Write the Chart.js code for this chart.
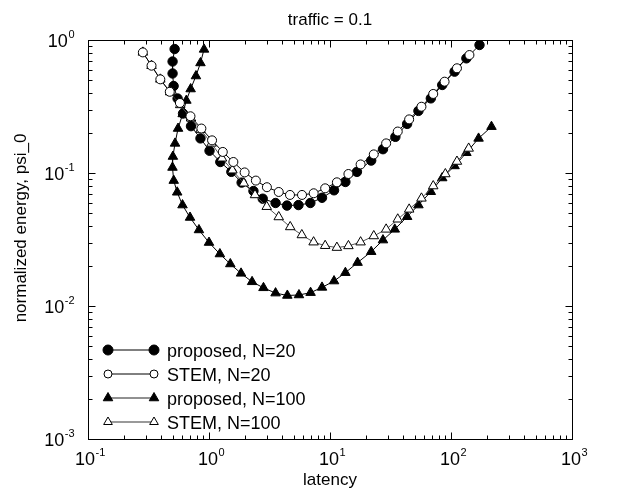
<!DOCTYPE html>
<html>
<head>
<meta charset="utf-8">
<script src="https://cdn.jsdelivr.net/npm/chart.js@4.4.1/dist/chart.umd.min.js"></script>
<style>
  body { margin: 0; background: #fff; }
  canvas { display: block; }
</style>
</head>
<body>
<canvas id="myChart" width="619" height="492"></canvas>
<script>
// Donnees (latence, energie normalisee)
const propN20X = [0.52, 0.50, 0.50, 0.51, 0.55, 0.61, 0.71, 0.85, 1.01, 1.24, 1.53, 1.86, 2.33, 2.78, 3.55, 4.41, 5.49, 6.88, 8.59, 10.8, 13.4, 16.7, 21.9, 27.4, 34.7, 43.4, 53.8, 68.1, 84.6, 107, 134, 172]
const propN20Y = [0.855, 0.689, 0.560, 0.451, 0.363, 0.280, 0.225, 0.182, 0.147, 0.121, 0.102, 0.0847, 0.0732, 0.0641, 0.0595, 0.0569, 0.0574, 0.0595, 0.0651, 0.0741, 0.0856, 0.102, 0.124, 0.151, 0.187, 0.234, 0.293, 0.364, 0.459, 0.578, 0.728, 0.917]

const stemN20X = [0.284, 0.335, 0.396, 0.474, 0.575, 0.703, 0.865, 1.06, 1.30, 1.59, 1.97, 2.44, 3.01, 3.77, 4.67, 5.87, 7.33, 9.12, 11.4, 14.2, 17.9, 23.0, 29.1, 36.3, 45.1, 57.0, 71.3, 88.5, 112, 142]
const stemN20Y = [0.807, 0.641, 0.506, 0.408, 0.336, 0.267, 0.216, 0.176, 0.144, 0.121, 0.101, 0.0877, 0.0782, 0.0720, 0.0684, 0.0684, 0.0704, 0.0767, 0.0851, 0.0983, 0.116, 0.138, 0.167, 0.205, 0.253, 0.315, 0.393, 0.486, 0.613, 0.771]

const propN100X = [0.91, 0.85, 0.78, 0.705, 0.65, 0.606, 0.555, 0.524, 0.503, 0.499, 0.511, 0.546, 0.604, 0.697, 0.826, 1.00, 1.23, 1.50, 1.84, 2.27, 2.82, 3.55, 4.44, 5.54, 6.91, 8.59, 10.8, 13.4, 16.9, 21.9, 27.4, 34.3, 43.4, 53.8, 68.1, 84.6, 107, 134, 169, 216]
const propN100Y = [0.850, 0.672, 0.536, 0.428, 0.351, 0.278, 0.216, 0.167, 0.133, 0.110, 0.0877, 0.0716, 0.0574, 0.0463, 0.0373, 0.0300, 0.0246, 0.0207, 0.0176, 0.0152, 0.0137, 0.0125, 0.0120, 0.0121, 0.0126, 0.0138, 0.0154, 0.0178, 0.0212, 0.0256, 0.0313, 0.0377, 0.0469, 0.0574, 0.0723, 0.0917, 0.113, 0.142, 0.182, 0.223]

const stemN100X = [0.284, 0.335, 0.396, 0.477, 0.578, 0.710, 0.851, 1.05, 1.28, 1.56, 1.94, 2.40, 3.00, 3.77, 4.69, 5.85, 7.32, 9.12, 11.4, 14.2, 17.9, 23.0, 29.1, 36.3, 45.1, 57.0, 71.3, 89.8, 112, 140]
const stemN100Y = [0.807, 0.641, 0.506, 0.406, 0.325, 0.258, 0.212, 0.167, 0.129, 0.105, 0.0837, 0.0684, 0.0558, 0.0467, 0.0393, 0.0342, 0.0302, 0.0284, 0.0275, 0.0283, 0.0302, 0.0336, 0.0377, 0.0449, 0.0533, 0.0645, 0.0798, 0.0983, 0.122, 0.153]

// Graduations des axes
const xTickValues = [0.1, 1, 10, 100, 1000]
const xTickExp = ["-1", "0", "1", "2", "3"]
const yTickValues = [0.001, 0.01, 0.1, 1]
const yTickExp = ["-3", "-2", "-1", "0"]

const titleText = "traffic = 0.1"
const xTitle = "latency"
const yTitle = "normalized energy, psi_0"

const FONT = "'Liberation Sans', Arial, sans-serif"

// Les entrees de la legende (dans l'ordre de la figure)
const legendItems = [
    { label: "proposed, N=20", style: "circle", fill: "#000", line: "#000", r: 5 },
    { label: "STEM, N=20", style: "circle", fill: "#fff", line: "#000", r: 4 },
    { label: "proposed, N=100", style: "triangle", fill: "#000", line: "#222", r: 5.5 },
    { label: "STEM, N=100", style: "triangle", fill: "#fff", line: "#777", r: 5 }
]

function makeSet(label, xs, ys, style, fill, lineColor, radius) {
    return {
        label: label,
        data: xs.map((x, i) => ({ x: x, y: ys[i] })),
        showLine: true,
        borderColor: lineColor,
        borderWidth: 1,
        pointStyle: style,
        pointRadius: radius,
        pointHoverRadius: radius,
        pointBackgroundColor: fill,
        pointBorderColor: "#000",
        pointBorderWidth: 1
    }
}

// Petit dessin des marqueurs pour la legende
function drawMarker(c, style, x, y, r, fill) {
    c.beginPath()
    if (style === "circle") {
        c.arc(x, y, r, 0, Math.PI * 2)
    } else {
        c.moveTo(x, y - r)
        c.lineTo(x + 0.866 * r, y + 0.5 * r)
        c.lineTo(x - 0.866 * r, y + 0.5 * r)
        c.closePath()
    }
    c.fillStyle = fill
    c.fill()
    c.strokeStyle = "#000"
    c.lineWidth = 1
    c.stroke()
}

// "10" avec l'exposant en petit
function drawPow(c, exp, x, y, align) {
    c.font = "18px " + FONT
    const w1 = c.measureText("10").width
    c.font = "11px " + FONT
    const w2 = c.measureText(exp).width
    const left = align === "center" ? x - (w1 + w2) / 2 : x - (w1 + w2)
    c.textAlign = "left"
    c.textBaseline = "alphabetic"
    c.fillStyle = "#000"
    c.font = "18px " + FONT
    c.fillText("10", left, y)
    c.font = "11px " + FONT
    c.fillText(exp, left + w1 + 0.5, y - 9)
}

const framePlugin = {
    id: "frame",
    afterDatasetsDraw(chart) {
        const c = chart.ctx
        const a = chart.chartArea
        const sx = chart.scales.x
        const sy = chart.scales.y
        c.save()
        c.strokeStyle = "#000"
        c.lineWidth = 1
        const L = Math.round(a.left) + 0.5, R = Math.round(a.right) + 0.5
        const T = Math.round(a.top) + 0.5, B = Math.round(a.bottom) + 0.5
        c.strokeRect(L, T, R - L, B - T)

        // graduations vers l'interieur, sur les quatre cotes
        c.beginPath()
        for (let d = 0.1; d < 999; d *= 10) {
            for (let k = 1; k < 10; k++) {
                const px = Math.round(sx.getPixelForValue(d * k)) + 0.5
                const len = k === 1 ? 7 : 4
                c.moveTo(px, B); c.lineTo(px, B - len)
                c.moveTo(px, T); c.lineTo(px, T + len)
            }
        }
        for (let d = 0.001; d < 0.99; d *= 10) {
            for (let k = 1; k < 10; k++) {
                const py = Math.round(sy.getPixelForValue(d * k)) + 0.5
                const len = k === 1 ? 7 : 4
                c.moveTo(L, py); c.lineTo(L + len, py)
                c.moveTo(R, py); c.lineTo(R - len, py)
            }
        }
        c.stroke()

        // etiquettes des graduations
        xTickValues.forEach((v, i) => drawPow(c, xTickExp[i], sx.getPixelForValue(v) + 2, 465, "center"))
        yTickValues.forEach((v, i) => drawPow(c, yTickExp[i], 74, sy.getPixelForValue(v) + 6.5, "right"))

        // titres
        c.fillStyle = "#000"
        c.textAlign = "center"
        c.textBaseline = "alphabetic"
        c.font = "17px " + FONT
        c.fillText(titleText, (a.left + a.right) / 2, 25)
        c.fillText(xTitle, (a.left + a.right) / 2, 485)
        c.save()
        c.translate(26, 228)
        c.rotate(-Math.PI / 2)
        c.fillText(yTitle, 0, 0)
        c.restore()

        // legende
        legendItems.forEach((it, i) => {
            const y = 350 + i * 24
            c.beginPath()
            c.strokeStyle = it.line
            c.lineWidth = it.line === "#777" ? 1.5 : 1
            c.moveTo(108, y); c.lineTo(154, y)
            c.stroke()
            drawMarker(c, it.style, 108, y, it.r, it.fill)
            drawMarker(c, it.style, 154, y, it.r, it.fill)
            c.fillStyle = "#000"
            c.textAlign = "left"
            c.font = "18px " + FONT
            c.fillText(it.label, 167, y + 6.5)
        })
        c.restore()
    }
}

const graph = document.getElementById("myChart")
// eslint-disable-next-line no-undef
new Chart(graph, {
    type: "scatter",
    data: {
        // le premier jeu est dessine au-dessus
        datasets: [
            makeSet("STEM, N=20", stemN20X, stemN20Y, "circle", "#fff", "#000", 4.5),
            makeSet("STEM, N=100", stemN100X, stemN100Y, "triangle", "#fff", "#555", 5.5),
            makeSet("proposed, N=20", propN20X, propN20Y, "circle", "#000", "#000", 4.7),
            makeSet("proposed, N=100", propN100X, propN100Y, "triangle", "#000", "#000", 5.5)
        ]
    },
    options: {
        responsive: false,
        animation: false,
        events: [],
        layout: { padding: { left: 88, top: 40, right: 47, bottom: 53 } },
        scales: {
            x: { type: "logarithmic", min: 0.1, max: 1000, display: false },
            y: { type: "logarithmic", min: 0.001, max: 1, display: false }
        },
        plugins: {
            legend: { display: false },
            tooltip: { enabled: false }
        }
    },
    plugins: [framePlugin]
})
</script>
</body>
</html>
